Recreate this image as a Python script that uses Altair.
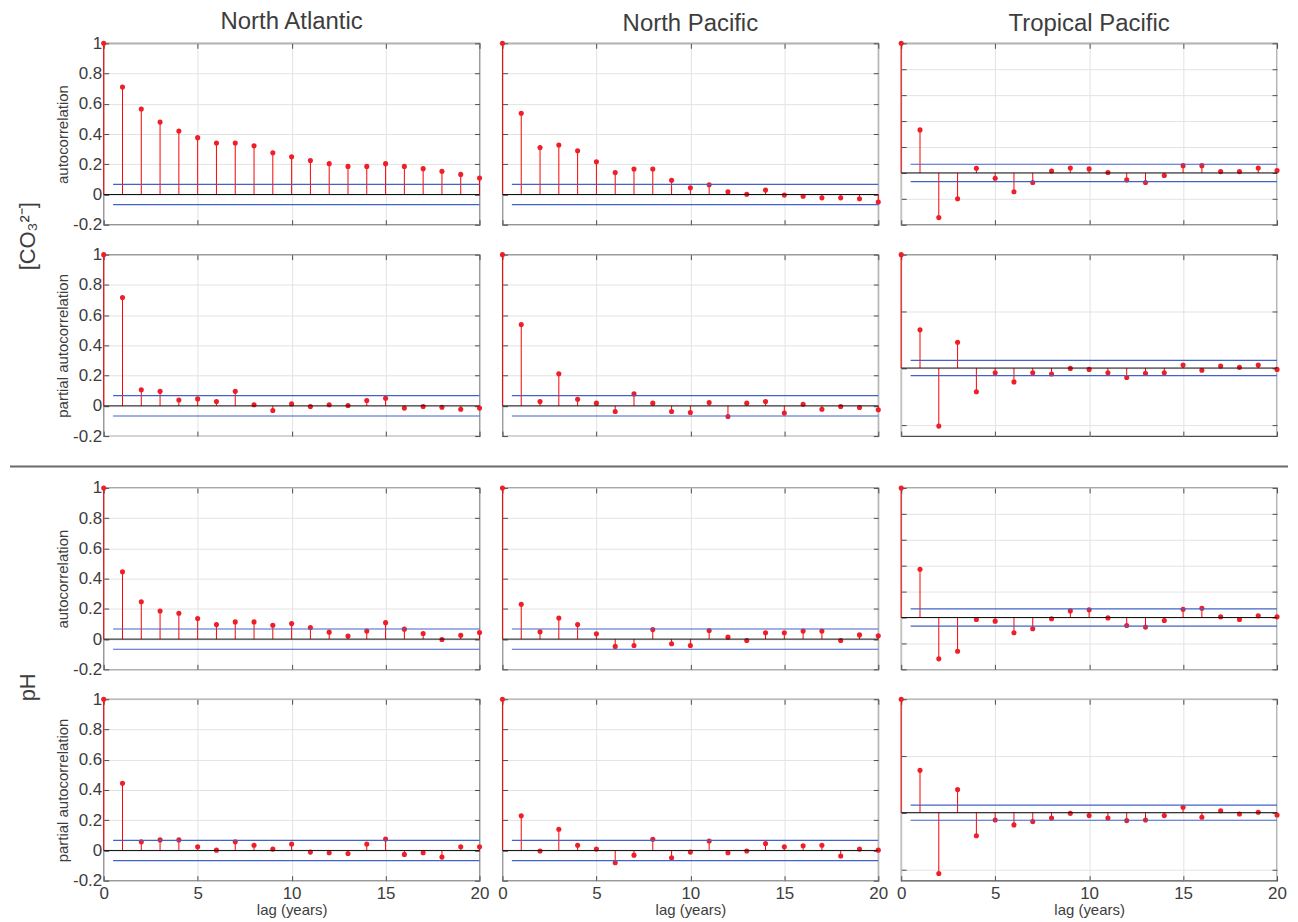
import altair as alt
import pandas as pd

lags = list(range(21))
regions = ["North Atlantic", "North Pacific", "Tropical Pacific"]
variables = ["[CO₃²⁻]", "pH"]
ylabels = ["autocorrelation", "partial autocorrelation"]
x_label = "lag (years)"
x_ticks = [0, 5, 10, 15, 20]
x_dom = [0, 20]
y_ticks_std = [-0.2, 0, 0.2, 0.4, 0.6, 0.8, 1]
y_ticks_tp_acf = [-0.4, -0.2, 0, 0.2, 0.4, 0.6, 0.8, 1]
y_ticks_tp_pacf = [-0.5, 0, 0.5, 1]
y_dom_std = [-0.2, 1]
y_dom_tp_acf = [-0.4, 1]
y_dom_tp_pacf = [-0.6, 1]
conf = 0.067
bound_lag = [0.5, 20]

co3_acf_na = [1, 0.711, 0.565, 0.479, 0.42, 0.376, 0.341, 0.341, 0.322, 0.276, 0.249, 0.225, 0.204, 0.186, 0.186, 0.204, 0.186, 0.171, 0.153, 0.133, 0.109]
co3_acf_np = [1, 0.537, 0.311, 0.327, 0.289, 0.217, 0.145, 0.169, 0.169, 0.094, 0.044, 0.064, 0.018, 0.002, 0.029, -0.004, -0.011, -0.022, -0.022, -0.028, -0.05]
co3_acf_tp = [1, 0.332, -0.345, -0.2, 0.036, -0.041, -0.146, -0.074, 0.015, 0.038, 0.031, 0.003, -0.054, -0.074, -0.02, 0.056, 0.056, 0.01, 0.01, 0.038, 0.018]
co3_pacf_na = [1, 0.717, 0.107, 0.096, 0.039, 0.046, 0.029, 0.096, 0.007, -0.031, 0.013, -0.004, 0.007, 0.002, 0.035, 0.05, -0.015, -0.004, -0.009, -0.022, -0.015]
co3_pacf_np = [1, 0.538, 0.028, 0.212, 0.044, 0.018, -0.037, 0.079, 0.018, -0.037, -0.044, 0.022, -0.07, 0.018, 0.028, -0.048, 0.011, -0.022, -0.004, -0.011, -0.026]
co3_pacf_tp = [1, 0.337, -0.512, 0.227, -0.209, -0.041, -0.122, -0.041, -0.052, -0.003, -0.012, -0.041, -0.084, -0.047, -0.041, 0.026, -0.02, 0.017, 0.006, 0.026, -0.012]
ph_acf_na = [1, 0.446, 0.247, 0.186, 0.171, 0.136, 0.096, 0.114, 0.114, 0.092, 0.103, 0.077, 0.046, 0.02, 0.053, 0.109, 0.066, 0.037, -0.002, 0.026, 0.044]
ph_acf_np = [1, 0.23, 0.048, 0.14, 0.096, 0.035, -0.048, -0.042, 0.063, -0.031, -0.042, 0.057, 0.013, -0.009, 0.042, 0.042, 0.053, 0.053, -0.009, 0.028, 0.022]
ph_acf_tp = [1, 0.372, -0.319, -0.26, -0.015, -0.028, -0.117, -0.087, -0.01, 0.051, 0.059, -0.003, -0.061, -0.074, -0.023, 0.064, 0.071, 0.005, -0.015, 0.013, 0.005]
ph_pacf_na = [1, 0.445, 0.057, 0.07, 0.07, 0.024, 0.002, 0.057, 0.035, 0.009, 0.042, -0.011, -0.015, -0.02, 0.042, 0.075, -0.026, -0.015, -0.044, 0.024, 0.024]
ph_pacf_np = [1, 0.23, -0.004, 0.14, 0.035, 0.009, -0.081, -0.031, 0.074, -0.048, -0.011, 0.063, -0.015, -0.004, 0.046, 0.024, 0.031, 0.035, -0.037, 0.009, 0.002]
ph_pacf_tp = [1, 0.373, -0.536, 0.204, -0.204, -0.064, -0.108, -0.079, -0.047, -0.006, -0.026, -0.047, -0.07, -0.064, -0.026, 0.047, -0.041, 0.017, -0.012, 0.003, -0.02]

series = [
    [co3_acf_na, co3_acf_np, co3_acf_tp],
    [co3_pacf_na, co3_pacf_np, co3_pacf_tp],
    [ph_acf_na, ph_acf_np, ph_acf_tp],
    [ph_pacf_na, ph_pacf_np, ph_pacf_tp],
]

W, H = 377, 182
TXT = "#3d3d3d"
FONT = "Liberation Sans"
TICK = "#4d4d4d"
LBL_EXPR = "toString(round(datum.value*10)/10)"


def panel(vals, r, c):
    df = pd.DataFrame({"lag": lags, "v": vals})
    acf = r % 2 == 0
    if c == 2:
        dom, yt = (y_dom_tp_acf, y_ticks_tp_acf) if acf else (y_dom_tp_pacf, y_ticks_tp_pacf)
    else:
        dom, yt = y_dom_std, y_ticks_std
    xs = alt.Scale(domain=x_dom, nice=False, zero=False)
    ys = alt.Scale(domain=dom, nice=False, zero=False)
    bottom = r == 3
    left = c == 0
    common = dict(offset=-5, tickSize=5, domain=False, labelFlush=False,
                  labelOverlap=False, tickColor=TICK)
    xa = alt.Axis(orient="bottom", values=x_ticks, grid=True, labels=bottom,
                  title=x_label if bottom else None, labelPadding=5, titlePadding=1,
                  minExtent=0, **common)
    if left:
        ya = alt.Axis(orient="left", values=yt, grid=True, labels=True,
                      title=ylabels[r % 2], labelPadding=2, labelExpr=LBL_EXPR,
                      minExtent=36, maxExtent=36, titlePadding=2, **common)
    else:
        ya = alt.Axis(orient="left", values=yt, grid=True, labels=False,
                      title=None, minExtent=0, maxExtent=0, **common)
    xt = alt.Axis(orient="top", values=x_ticks, grid=False, labels=False,
                  title=None, minExtent=0, maxExtent=0, **common)
    yr = alt.Axis(orient="right", values=yt, grid=False, labels=False,
                  title=None, minExtent=0, maxExtent=0, **common)

    stems = alt.Chart(df).mark_rule(color="#ff0000", strokeWidth=1).encode(
        x=alt.X("lag:Q", scale=xs, axis=xa),
        y=alt.Y("v:Q", scale=ys, axis=ya),
        y2=alt.Y2Datum(0),
    )
    pts = alt.Chart(df).mark_circle(color="#ee1f28", size=26, opacity=1).encode(
        x=alt.X("lag:Q", scale=xs, axis=xt),
        y=alt.Y("v:Q", scale=ys, axis=yr),
    )
    zero = alt.Chart(pd.DataFrame({"z": [0]})).mark_rule(color="#111111", strokeWidth=1).encode(
        y=alt.Y("z:Q", scale=ys, axis=None),
    )
    bdf = pd.DataFrame({"b": [conf, -conf], "x0": [bound_lag[0]] * 2, "x1": [bound_lag[1]] * 2})
    bnd = alt.Chart(bdf).mark_rule(color="#4263c4", strokeWidth=1.2).encode(
        x=alt.X("x0:Q", scale=xs, axis=None),
        x2="x1:Q",
        y=alt.Y("b:Q", scale=ys, axis=None),
    )
    ch = alt.layer(stems, pts, zero, bnd).resolve_axis(
        x="independent", y="independent"
    ).properties(width=W, height=H)
    if r == 0:
        ch = ch.properties(title=alt.TitleParams(regions[c], fontSize=24, frame="group",
                                                 offset=0 if left else 5, anchor="middle"))
    return ch


rows = [
    alt.hconcat(*[panel(series[r][c], r, c) for c in range(3)], spacing=23, bounds="flush")
    for r in range(4)
]

g1 = alt.vconcat(rows[0], rows[1], spacing=11,
                 title=alt.TitleParams(variables[0], orient="left", anchor="middle",
                                       offset=15, fontSize=22, dx=-9))
g2 = alt.vconcat(rows[2], rows[3], spacing=11,
                 title=alt.TitleParams(variables[1], orient="left", anchor="middle",
                                       offset=15, fontSize=22, dx=11))

sep = alt.Chart(pd.DataFrame({"s": [0]})).mark_rule(color="#6b6b6b", strokeWidth=2).encode(
    x=alt.value(-94), x2=alt.value(1188), y=alt.value(20.5)
).properties(width=1177, height=31, view=alt.ViewBackground(stroke="transparent"))

chart = alt.vconcat(g1, sep, g2, spacing=0).properties(
    padding=0
).configure_view(
    stroke="#4d4d4d", strokeWidth=1.3
).configure_axis(
    labelFont=FONT, titleFont=FONT, labelColor=TXT, titleColor=TXT,
    labelFontSize=17, titleFontSize=15, titleFontWeight="normal",
    gridColor="#e3e3e3", gridWidth=1, tickWidth=1,
).configure_title(
    font=FONT, color=TXT, fontWeight="normal", fontSize=24
)

chart.save("out.html", embed_options={"renderer": "svg", "actions": False})
